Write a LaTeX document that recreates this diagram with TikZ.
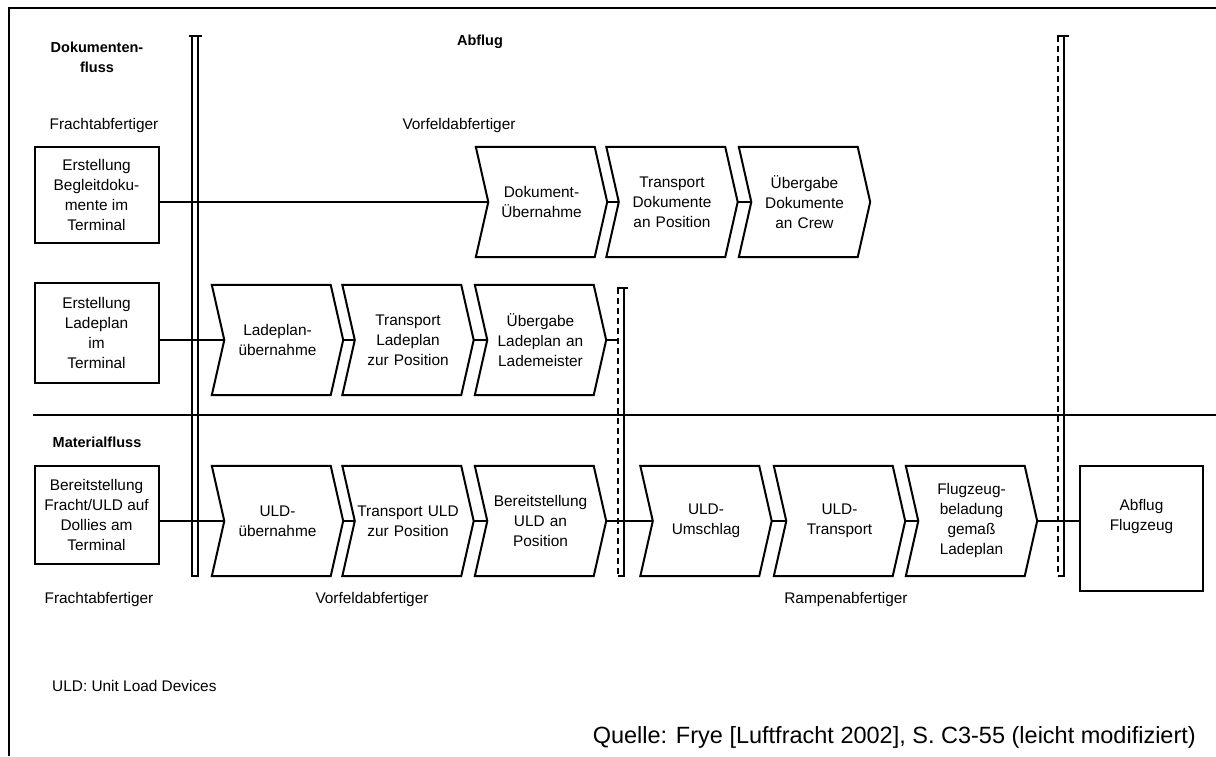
\documentclass[tikz,border=0pt]{standalone}
\usepackage{fontspec}
\setmainfont{Liberation Sans}
\begin{document}
\begin{tikzpicture}[x=1pt,y=-1pt,
  txt/.style={font=\fontsize{15.4}{20}\selectfont, align=center, inner sep=0pt},
  hdr/.style={font=\fontsize{14.5}{20}\selectfont\bfseries, align=center, inner sep=0pt},
  box/.style={txt, draw, line width=2pt, minimum width=124pt},
  chev/.style={txt, minimum width=131pt, minimum height=110pt, text width=112pt},
  ln/.style={line width=2pt},
  dwall/.style={line width=2pt, dash pattern=on 6pt off 4pt}]
\useasboundingbox (0,0) rectangle (1216,756);
% frame
\draw[line width=2.5pt] (9,756) -- (9,8) -- (1216,8);
% separator
\draw[ln] (33,415) -- (1216,415);
% walls
\draw[ln] (192,36) -- (192,576) -- (198,576) -- (198,36);
\draw[ln] (189,36) -- (202,36);
\draw[dwall] (618,288) -- (618,576);
\draw[ln] (618,576) -- (624,576) -- (624,288);
\draw[ln] (617,288) -- (628,288);
\draw[dwall] (1058,36) -- (1058,576);
\draw[ln] (1058,576) -- (1064,576) -- (1064,36);
\draw[ln] (1057,36) -- (1069,36);
% headings and labels
\node[hdr] (hd) at (97,57) {Dokumenten-\\fluss};
\node[hdr] (ha) at (480,42) {Abflug};
\node[hdr] (hm) at (97,442) {Materialfluss};
\node[txt] (f1) at (104,126) {Frachtabfertiger};
\node[txt] (v1) at (459,126) {Vorfeldabfertiger};
\node[txt] (f2) at (99,600) {Frachtabfertiger};
\node[txt] (v2) at (372,600) {Vorfeldabfertiger};
\node[txt] (ra) at (846,600) {Rampenabfertiger};
\node[txt, anchor=west] (uld) at (52,686) {ULD: Unit Load Devices};
\node[font=\fontsize{23.5}{28}\selectfont, inner sep=0pt, anchor=east] (q) at (1196,737) {Quelle: Frye [Luftfracht 2002], S. C3-55 (leicht modifiziert)};
% boxes
\node[box, minimum height=96pt] (b1) at (96.5,195) {Erstellung\\Begleitdoku-\\mente im\\Terminal};
\node[box, minimum height=100pt] (b2) at (96.5,332.5) {Erstellung\\Ladeplan\\im\\Terminal};
\node[box, minimum height=98pt] (b3) at (96.5,515) {Bereitstellung\\Fracht/ULD auf\\Dollies am\\Terminal};
\node[box, minimum width=123pt, minimum height=125pt,
  label={[txt, yshift=12pt]center:{Abflug\\Flugzeug}}] (ab) at (1141.5,528.5) {};
% chevrons
\node[chev] (d1) at (541.5,202) {Dokument-\\Übernahme};
\node[chev] (d2) at (672,202) {Transport\\Dokumente\\an Position};
\node[chev] (d3) at (804.5,202) {Übergabe\\Dokumente\\an Crew};
\node[chev] (l1) at (277.5,340) {Ladeplan-\\übernahme};
\node[chev] (l2) at (408,340) {Transport\\Ladeplan\\zur Position};
\node[chev] (l3) at (540.5,340) {Übergabe\\Ladeplan an\\Lademeister};
\node[chev] (u1) at (277.5,521) {ULD-\\übernahme};
\node[chev] (u2) at (408,521) {Transport ULD\\zur Position};
\node[chev] (u3) at (540.5,521) {Bereitstellung\\ULD an\\Position};
\node[chev] (r1) at (706,521) {ULD-\\Umschlag};
\node[chev] (r2) at (839.5,521) {ULD-\\Transport};
\node[chev] (r3) at (971.5,521) {Flugzeug-\\beladung\\gemaß\\Ladeplan};
\foreach \n in {d1,d2,d3,l1,l2,l3,u1,u2,u3,r1,r2,r3}
  \draw[ln] (\n.north west) -- ([xshift=-12.5pt]\n.north east) -- (\n.east)
    -- ([xshift=-12.5pt]\n.south east) -- (\n.south west) -- ([xshift=12.5pt]\n.west) -- cycle;
% connectors
\coordinate (mw) at (618,340);
\draw[ln] (d1.west -| b1.east) -- ([xshift=12.5pt]d1.west);
\draw[ln] (d1.east) -- ([xshift=12.5pt]d2.west);
\draw[ln] (d2.east) -- ([xshift=12.5pt]d3.west);
\draw[ln] (l1.west -| b2.east) -- ([xshift=12.5pt]l1.west);
\draw[ln] (l1.east) -- ([xshift=12.5pt]l2.west);
\draw[ln] (l2.east) -- ([xshift=12.5pt]l3.west);
\draw[ln] (l3.east) -- (mw);
\draw[ln] (u1.west -| b3.east) -- ([xshift=12.5pt]u1.west);
\draw[ln] (u1.east) -- ([xshift=12.5pt]u2.west);
\draw[ln] (u2.east) -- ([xshift=12.5pt]u3.west);
\draw[ln] (u3.east) -- ([xshift=12.5pt]r1.west);
\draw[ln] (r1.east) -- ([xshift=12.5pt]r2.west);
\draw[ln] (r2.east) -- ([xshift=12.5pt]r3.west);
\draw[ln] (r3.east) -- (r3.east -| ab.west);
\end{tikzpicture}
\end{document}
